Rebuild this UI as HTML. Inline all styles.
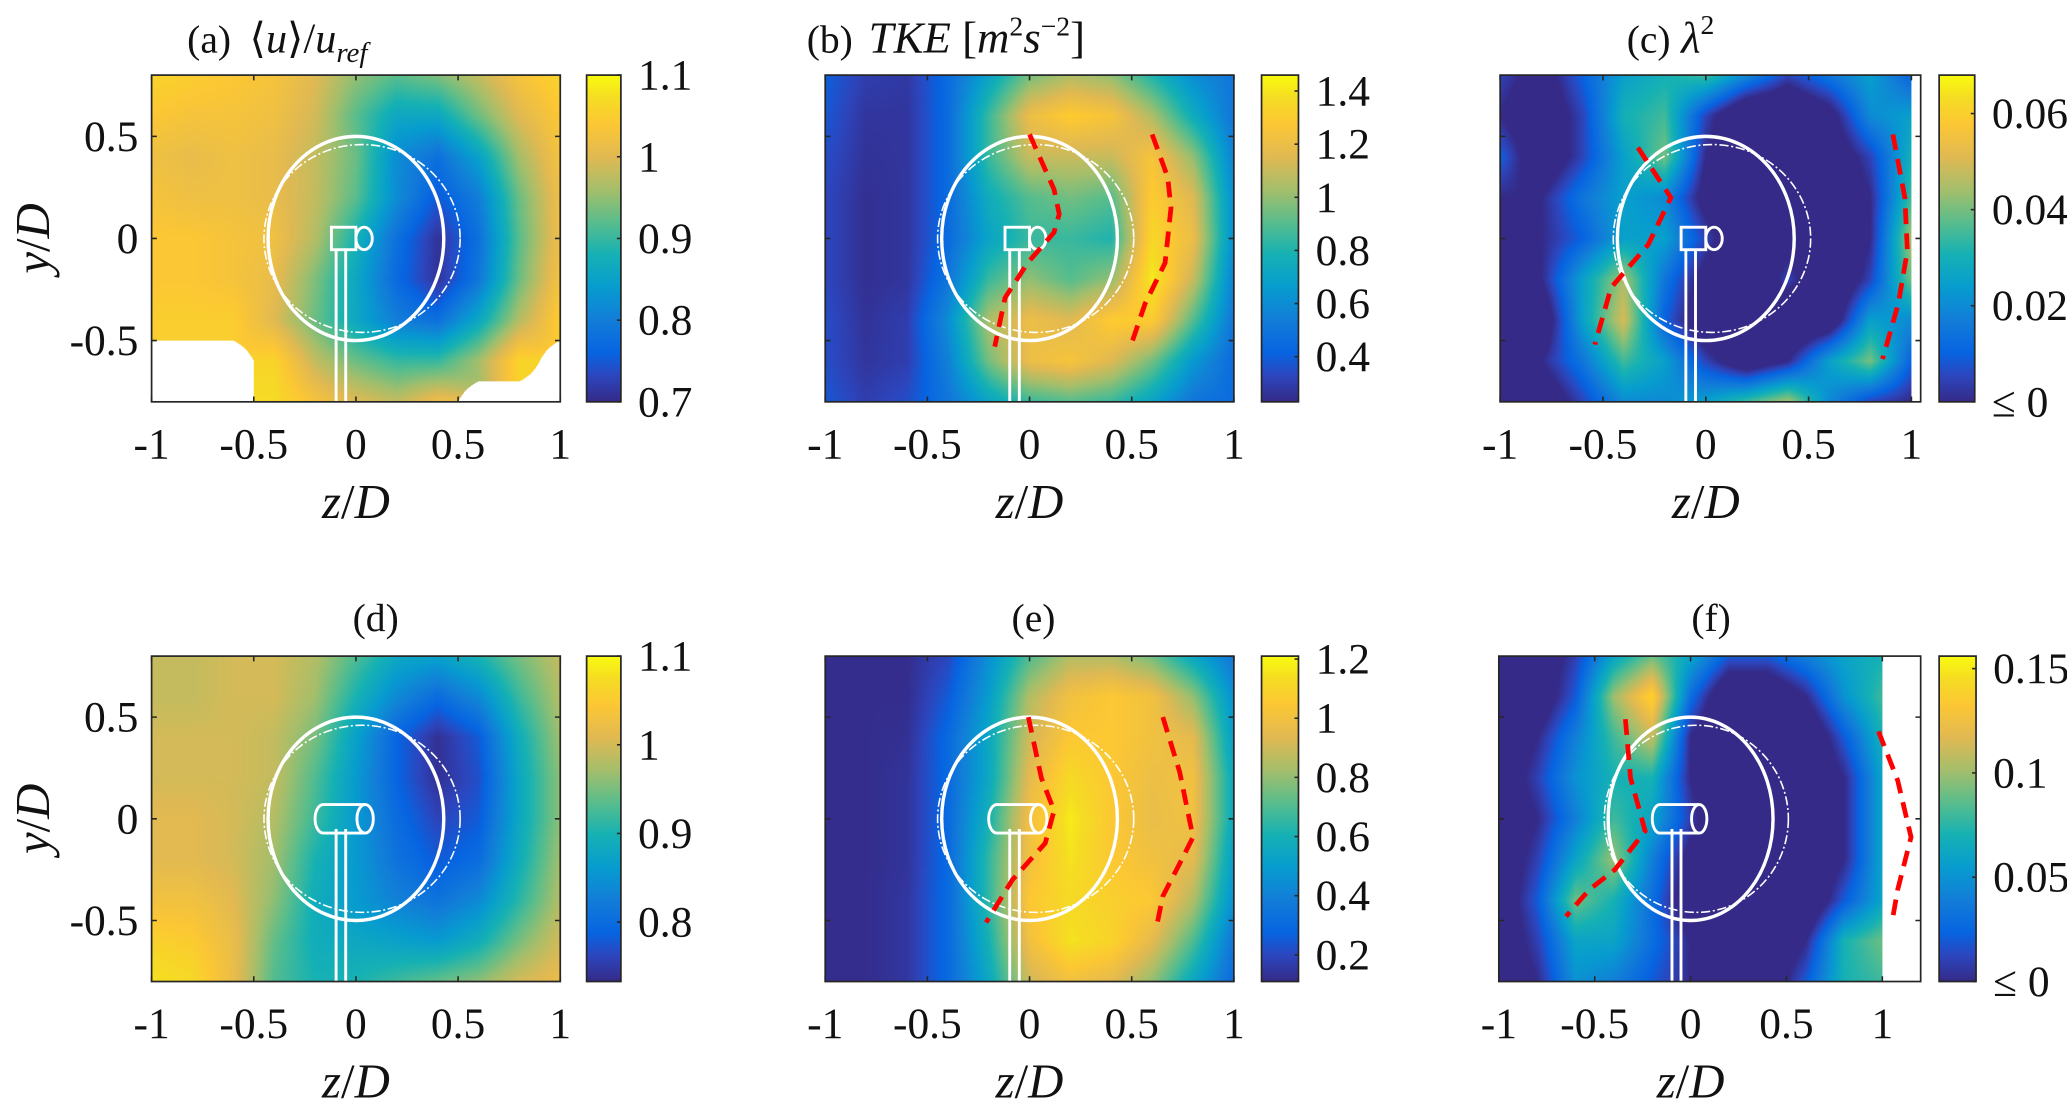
<!DOCTYPE html>
<html><head><meta charset="utf-8">
<style>
html,body{margin:0;padding:0;background:#fff;overflow:hidden;}
#wrap{position:absolute;left:0;top:0;width:1568px;height:841px;transform-origin:0 0;transform:scale(1.31824,1.31748);}
canvas{position:absolute;}
svg{position:absolute;left:0;top:0;}
text{font-family:"Liberation Serif",serif;fill:#111;}
</style></head>
<body>
<div id="wrap">
<canvas id="cv-a"></canvas>
<canvas id="cv-b"></canvas>
<canvas id="cv-c"></canvas>
<canvas id="cv-d"></canvas>
<canvas id="cv-e"></canvas>
<canvas id="cv-f"></canvas>
<svg id="ov" width="1568" height="841" viewBox="0 0 1568 841" font-family="Liberation Serif, serif">
<g font-size="30">
<text x="142" y="40">(a)<tspan dx="14" font-size="32">⟨</tspan><tspan font-style="italic" font-size="32">u</tspan><tspan font-size="32">⟩/</tspan><tspan font-style="italic" font-size="32">u</tspan><tspan font-style="italic" font-size="22" dy="7">ref</tspan></text>
<text x="612" y="40">(b)<tspan dx="12" font-style="italic" font-size="34">TKE</tspan><tspan font-size="34"> [</tspan><tspan font-style="italic" font-size="34">m</tspan><tspan font-size="21" dy="-13">2</tspan><tspan font-style="italic" font-size="34" dy="13">s</tspan><tspan font-size="21" dy="-13">−2</tspan><tspan font-size="34" dy="13">]</tspan></text>
<text x="1234" y="40">(c)<tspan dx="8" font-style="italic" font-size="34">λ</tspan><tspan font-size="21" dy="-14">2</tspan></text>
<text x="285" y="479" text-anchor="middle">(d)</text>
<text x="784" y="479" text-anchor="middle">(e)</text>
<text x="1298" y="479" text-anchor="middle">(f)</text>
</g>
</svg>
</div>
<script>
// ---------- data ----------
const zCols = [-1,-0.8,-0.6,-0.4,-0.2,0,0.2,0.4,0.6,0.8,1.0];
const zColsF = [-1,-0.8,-0.6,-0.4,-0.2,0,0.2,0.4,0.6,0.8,1.0,1.2];
const yRows = [0.8,0.6,0.4,0.2,0,-0.2,-0.4,-0.6,-0.8];
const N = null;
const fieldA = [
[1.06,1.05,1.04,1.03,1.0,0.95,0.92,0.94,0.98,1.03,1.06],
[1.04,1.03,1.03,1.02,0.99,0.92,0.86,0.86,0.93,1.0,1.04],
[1.02,1.01,1.02,1.01,0.98,0.93,0.82,0.78,0.85,0.96,1.03],
[1.03,1.02,1.02,1.01,0.98,0.92,0.82,0.75,0.8,0.93,1.02],
[1.04,1.04,1.03,1.02,0.97,0.88,0.78,0.71,0.78,0.92,1.02],
[1.04,1.04,1.03,1.01,0.94,0.86,0.77,0.71,0.79,0.93,1.03],
[1.05,1.05,1.05,1.0,0.93,0.86,0.8,0.78,0.86,0.97,1.05],
[N,N,N,1.06,0.98,0.93,0.9,0.9,0.96,1.06,N],
[N,N,N,1.07,1.03,1.0,0.98,1.02,N,N,N]];
const fieldB = [
[0.4,0.3,0.28,0.45,0.7,0.95,1.05,1.0,0.8,0.6,0.5],
[0.38,0.27,0.27,0.45,0.85,1.2,1.3,1.25,1.05,0.75,0.5],
[0.35,0.26,0.27,0.45,0.85,1.1,1.1,1.1,1.25,1.0,0.55],
[0.33,0.25,0.27,0.45,0.75,0.9,0.95,0.9,1.3,1.15,0.6],
[0.33,0.25,0.27,0.45,0.7,0.85,0.85,0.8,1.35,1.2,0.6],
[0.33,0.25,0.27,0.5,0.85,1.0,0.9,1.0,1.42,1.1,0.55],
[0.35,0.26,0.3,0.6,1.05,1.2,1.15,1.3,1.3,0.9,0.5],
[0.35,0.27,0.3,0.55,0.95,1.2,1.25,1.15,0.95,0.65,0.45],
[0.38,0.3,0.35,0.5,0.7,0.85,0.9,0.85,0.7,0.5,0.45]];
const fieldC = [
[0.005,-0.005,0.01,0.025,0.03,0.035,0.02,0.005,0.015,0.025,0.01],
[0.0,-0.01,0.005,0.03,0.035,0.005,-0.015,-0.015,-0.005,0.02,0.025],
[0.01,-0.01,0.005,0.025,0.04,0.0,-0.015,-0.015,-0.01,0.005,0.03],
[0.0,0.0,0.015,0.025,0.02,-0.005,-0.015,-0.01,-0.015,0.0,0.035],
[-0.01,0.0,0.01,0.025,0.025,0.005,-0.015,-0.005,-0.015,0.0,0.045],
[-0.01,0.0,0.025,0.045,0.015,-0.005,-0.015,0.005,-0.015,0.005,0.04],
[0.0,-0.01,0.025,0.05,0.01,-0.01,-0.015,-0.015,-0.01,0.025,0.02],
[-0.01,0.0,0.015,0.035,0.025,0.005,-0.01,0.0,0.025,0.04,0.01],
[-0.01,-0.01,0.005,0.02,0.02,0.025,0.035,0.045,0.02,0.005,0.0]];
const fieldD = [
[0.99,0.99,1.0,1.0,0.98,0.93,0.88,0.87,0.9,0.95,0.99],
[0.99,0.99,1.0,1.0,0.97,0.9,0.84,0.8,0.84,0.92,0.98],
[1.0,1.0,1.0,0.99,0.95,0.87,0.79,0.74,0.78,0.89,0.97],
[1.0,1.0,1.0,0.99,0.93,0.86,0.79,0.74,0.77,0.88,0.96],
[1.01,1.01,1.0,0.98,0.92,0.86,0.8,0.76,0.78,0.88,0.96],
[1.01,1.01,1.0,0.97,0.9,0.86,0.81,0.78,0.8,0.89,0.97],
[1.03,1.03,1.01,0.96,0.89,0.86,0.83,0.81,0.84,0.91,0.98],
[1.06,1.05,1.02,0.94,0.89,0.88,0.87,0.86,0.89,0.95,1.0],
[1.08,1.07,1.02,0.93,0.9,0.9,0.92,0.94,0.96,1.0,1.02]];
const fieldE = [
[0.12,0.12,0.12,0.2,0.45,0.7,0.85,0.85,0.75,0.55,0.35],
[0.12,0.12,0.12,0.25,0.5,0.85,1.0,1.05,1.0,0.8,0.45],
[0.12,0.12,0.13,0.3,0.55,0.9,1.05,1.05,1.0,0.95,0.5],
[0.12,0.12,0.14,0.3,0.55,0.95,1.12,1.05,0.98,1.0,0.55],
[0.12,0.12,0.14,0.3,0.6,1.0,1.17,1.05,0.97,1.0,0.55],
[0.12,0.12,0.14,0.3,0.65,1.0,1.15,1.05,1.0,0.95,0.5],
[0.12,0.12,0.15,0.3,0.65,1.05,1.12,1.08,1.05,0.85,0.45],
[0.12,0.12,0.15,0.3,0.6,1.0,1.15,1.1,0.95,0.7,0.35],
[0.12,0.12,0.15,0.3,0.55,0.9,1.0,0.95,0.8,0.55,0.3]];
const fieldF = [
[-0.02,-0.02,0.01,0.06,0.09,0.06,0.02,0.02,0.04,0.06,0.07,N],
[-0.02,-0.02,0.02,0.1,0.14,0.03,-0.03,-0.03,0.0,0.05,0.08,N],
[-0.02,0.0,0.04,0.08,0.11,0.0,-0.04,-0.04,-0.03,0.02,0.07,N],
[-0.02,0.01,0.05,0.07,0.07,0.0,-0.04,-0.04,-0.03,0.0,0.06,N],
[-0.02,0.0,0.04,0.08,0.06,0.01,-0.04,-0.04,-0.03,0.0,0.06,N],
[-0.02,0.01,0.06,0.1,0.04,-0.01,-0.04,-0.04,-0.03,0.0,0.06,N],
[-0.02,0.02,0.09,0.07,0.03,-0.02,-0.04,-0.04,-0.03,0.02,0.06,N],
[-0.02,0.01,0.06,0.06,0.03,0.0,-0.03,-0.03,0.0,0.07,0.09,N],
[-0.02,0.0,0.05,0.04,0.02,0.0,-0.02,-0.02,0.02,0.07,0.08,N]];
// red dashed vortex-path lines [z, y]
const pathB1 = [[0,0.51],[0.12,0.24],[0.145,0.12],[0.12,0.03],[-0.01,-0.12],[-0.12,-0.29],[-0.17,-0.53]];
const pathB2 = [[0.6,0.51],[0.676,0.3],[0.692,0.15],[0.663,-0.12],[0.565,-0.32],[0.494,-0.53]];
const pathC1 = [[-0.33,0.445],[-0.17,0.2],[-0.28,-0.03],[-0.46,-0.24],[-0.54,-0.52]];
const pathC2 = [[0.91,0.51],[0.968,0.2],[0.98,-0.06],[0.936,-0.32],[0.86,-0.59]];
const pathE1 = [[-0.006,0.5],[0.058,0.2],[0.12,0.04],[0.077,-0.12],[-0.084,-0.3],[-0.213,-0.51]];
const pathE2 = [[0.652,0.5],[0.735,0.23],[0.8,-0.09],[0.735,-0.22],[0.652,-0.38],[0.626,-0.51]];
const pathF1 = [[-0.34,0.49],[-0.313,0.2],[-0.237,-0.06],[-0.395,-0.25],[-0.53,-0.35],[-0.65,-0.48]];
const pathF2 = [[0.98,0.43],[1.08,0.19],[1.15,-0.09],[1.08,-0.35],[1.05,-0.51]];
const xTicks = [-1,-0.5,0,0.5,1];
const xTickLabels = ['-1','-0.5','0','0.5','1'];
const yTicks = [0.5,0,-0.5];
const yTickLabels = ['0.5','0','-0.5'];
const climA=[0.7,1.1], climB=[0.23,1.46], climC=[0,0.068], climD=[0.733,1.1], climE=[0.11,1.21], climF=[0,0.156];
const cbTicksA=[0.7,0.8,0.9,1,1.1], cbLabA=['0.7','0.8','0.9','1','1.1'];
const cbTicksB=[0.4,0.6,0.8,1,1.2,1.4], cbLabB=['0.4','0.6','0.8','1','1.2','1.4'];
const cbTicksC=[0,0.02,0.04,0.06], cbLabC=['≤ 0','0.02','0.04','0.06'];
const cbTicksD=[0.8,0.9,1,1.1], cbLabD=['0.8','0.9','1','1.1'];
const cbTicksE=[0.2,0.4,0.6,0.8,1,1.2], cbLabE=['0.2','0.4','0.6','0.8','1','1.2'];
const cbTicksF=[0,0.05,0.1,0.15], cbLabF=['≤ 0','0.05','0.1','0.15'];

// ---------- colormap ----------
const cmapStops=[[0,53,42,135],[0.08,44,70,190],[0.15,7,100,225],[0.25,18,125,216],[0.35,7,156,207],[0.45,21,177,180],[0.55,89,189,140],[0.65,165,190,107],[0.75,225,185,82],[0.85,252,199,52],[0.93,245,220,35],[1,249,251,14]];
function cmap(t){t=Math.max(0,Math.min(1,t));for(let i=1;i<cmapStops.length;i++){const a=cmapStops[i-1],b=cmapStops[i];if(t<=b[0]){const f=(t-a[0])/(b[0]-a[0]);return [a[1]+f*(b[1]-a[1]),a[2]+f*(b[2]-a[2]),a[3]+f*(b[3]-a[3])];}}return [249,251,14];}

const NS='http://www.w3.org/2000/svg';
const ov=document.getElementById('ov');
function mk(tag,attrs,parent){const e=document.createElementNS(NS,tag);for(const k in attrs)e.setAttribute(k,attrs[k]);(parent||ov).appendChild(e);return e;}

const panels=[
 {k:'a',x0:115,y0:57,w:310,h:248,zmin:-1,zmax:1,zvalid:1,cols:zCols,f:fieldA,clim:climA,cbx:445,cbw:26,ct:cbTicksA,cl:cbLabA,ylab:true,paths:[],big:false},
 {k:'b',x0:626,y0:57,w:310,h:248,zmin:-1,zmax:1,zvalid:1,cols:zCols,f:fieldB,clim:climB,cbx:957,cbw:28,ct:cbTicksB,cl:cbLabB,ylab:false,paths:[pathB1,pathB2],big:false},
 {k:'c',x0:1138,y0:57,w:319,h:248,zmin:-1,zmax:1.045,zvalid:1,cols:zCols,f:fieldC,clim:climC,cbx:1471,cbw:27,ct:cbTicksC,cl:cbLabC,ylab:false,paths:[pathC1,pathC2],big:false},
 {k:'d',x0:115,y0:498,w:310,h:247,zmin:-1,zmax:1,zvalid:1,cols:zCols,f:fieldD,clim:climD,cbx:445,cbw:26,ct:cbTicksD,cl:cbLabD,ylab:true,paths:[],big:true},
 {k:'e',x0:626,y0:498,w:310,h:247,zmin:-1,zmax:1,zvalid:1,cols:zCols,f:fieldE,clim:climE,cbx:957,cbw:28,ct:cbTicksE,cl:cbLabE,ylab:false,paths:[pathE1,pathE2],big:true},
 {k:'f',x0:1137,y0:498,w:320,h:247,zmin:-1,zmax:1.2,zvalid:1,cols:zColsF,f:fieldF,clim:climF,cbx:1471,cbw:28,ct:cbTicksF,cl:cbLabF,ylab:false,paths:[pathF1,pathF2],big:true}
];

function sample(P,z,y){
  const cols=P.cols,nz=cols.length,ny=yRows.length;
  let fi=(z-cols[0])/(cols[1]-cols[0]);fi=Math.max(0,Math.min(nz-1.0001,fi));
  let fj=(yRows[0]-y)/(yRows[0]-yRows[1]);fj=Math.max(0,Math.min(ny-1.0001,fj));
  const i=Math.floor(fi),j=Math.floor(fj),u=fi-i,v=fj-j;
  const c=[[P.f[j][i],(1-u)*(1-v)],[P.f[j][i+1],u*(1-v)],[P.f[j+1][i],(1-u)*v],[P.f[j+1][i+1],u*v]];
  let s=0,ws=0,m=0;for(const [val,w] of c){if(val!==null){s+=val*w;ws+=w;m+=w;}}
  if(m<0.5||ws===0)return null;return s/ws;
}

panels.forEach(P=>{
  const cv=document.getElementById('cv-'+P.k);
  cv.width=P.w*2;cv.height=P.h*2;
  cv.style.left=P.x0+'px';cv.style.top=P.y0+'px';cv.style.width=P.w+'px';cv.style.height=P.h+'px';
  const ctx=cv.getContext('2d');const img=ctx.createImageData(cv.width,cv.height);
  for(let py=0;py<cv.height;py++){for(let px=0;px<cv.width;px++){
    const z=P.zmin+(px+0.5)/cv.width*(P.zmax-P.zmin);
    const y=0.8-(py+0.5)/cv.height*1.6;
    let col=[255,255,255];
    if(z<=P.zvalid){const v=sample(P,z,y);if(v!==null)col=cmap((v-P.clim[0])/(P.clim[1]-P.clim[0]));}
    const o=(py*cv.width+px)*4;img.data[o]=col[0];img.data[o+1]=col[1];img.data[o+2]=col[2];img.data[o+3]=255;
  }}
  ctx.putImageData(img,0,0);

  const sx=P.w/(P.zmax-P.zmin), sy=P.h/1.6;
  const X=z=>P.x0+(z-P.zmin)*sx, Y=y=>P.y0+(0.8-y)*sy;
  const g=mk('g',{});
  
  

  const dash=mk('ellipse',{cx:X(0.03),cy:Y(0),rx:0.48*sx,ry:0.46*sy,fill:'none',stroke:'#fff','stroke-width':1.2,'stroke-dasharray':'7 2 1.5 2'},g);
  
  
  const rot=mk('ellipse',{cx:X(0),cy:Y(0),rx:0.43*sx,ry:0.5*sy,fill:'none',stroke:'#fff','stroke-width':2.6},g);
  
  
  const tw=mk('path',{d:`M${X(-0.097)},${Y(-0.05)}V${Y(-0.8)}M${X(-0.05)},${Y(-0.05)}V${Y(-0.8)}`,stroke:'#fff','stroke-width':2.2,fill:'none'},g);
  
  
  let nac;
  if(P.big){
    const h=0.07*sy;
    nac=mk('path',{d:`M${X(0.045)},${Y(0)-h}H${X(-0.16)}A${0.04*sx},${h} 0 0 0 ${X(-0.16)},${Y(0)+h}H${X(0.045)}`,stroke:'#fff','stroke-width':2.2,fill:'none'},g);
    mk('ellipse',{cx:X(0.045),cy:Y(0),rx:0.04*sx,ry:h,stroke:'#fff','stroke-width':2.2,fill:'none'},g);
  } else {
    nac=mk('rect',{x:X(-0.12),y:Y(0.055),width:0.12*sx,height:0.11*sy,stroke:'#fff','stroke-width':2.2,fill:'none'},g);
    mk('ellipse',{cx:X(0.04),cy:Y(0),rx:0.04*sx,ry:0.055*sy,stroke:'#fff','stroke-width':2.2,fill:'none'},g);
  }
  
  

  P.paths.forEach((pth,idx)=>{
    const d=pth.map((p,i)=>(i?'L':'M')+X(p[0]).toFixed(1)+','+Y(p[1]).toFixed(1)).join('');
    const l=mk('path',{d:d,stroke:'#f00','stroke-width':3.6,fill:'none','stroke-dasharray':'12 7'},g);
    
    
  });

  const box=mk('rect',{x:P.x0,y:P.y0,width:P.w,height:P.h,fill:'none',stroke:'#262626','stroke-width':1.3},g);
  
  
  xTicks.forEach((t,i)=>{
    const x=X(t);
    mk('path',{d:`M${x},${P.y0+P.h}v-4M${x},${P.y0}v4`,stroke:'#262626','stroke-width':1.2},g);
    const tl=mk('text',{x:x,y:P.y0+P.h+43,'text-anchor':'middle','font-size':33},g);
    tl.textContent=xTickLabels[i];
    
    
  });
  yTicks.forEach((t,i)=>{
    const y=Y(t);
    mk('path',{d:`M${P.x0},${y}h4M${P.x0+P.w},${y}h-4`,stroke:'#262626','stroke-width':1.2},g);
    if(P.ylab){
      const tl=mk('text',{x:P.x0-10,y:y+11,'text-anchor':'end','font-size':33},g);
      tl.textContent=yTickLabels[i];
      
      
    }
  });
  const xl=mk('text',{x:X(0),y:P.y0+P.h+88,'text-anchor':'middle','font-size':37},g);
  xl.innerHTML='<tspan font-style="italic">z</tspan>/<tspan font-style="italic">D</tspan>';
  
  
  if(P.ylab){
    const yl=mk('text',{x:0,y:0,'text-anchor':'middle','font-size':37,transform:`translate(37,${Y(0)}) rotate(-90)`},g);
    yl.innerHTML='<tspan font-style="italic">y</tspan>/<tspan font-style="italic">D</tspan>';
    
    
  }

  const gid='grad-'+P.k;
  const lg=mk('linearGradient',{id:gid,x1:0,y1:1,x2:0,y2:0},g);
  cmapStops.forEach(s=>mk('stop',{offset:s[0],'stop-color':`rgb(${s[1]},${s[2]},${s[3]})`},lg));
  const cb=mk('rect',{x:P.cbx,y:P.y0,width:P.cbw,height:P.h,fill:`url(#${gid})`,stroke:'#262626','stroke-width':1.3},g);
  
  
  const CY=v=>P.y0+P.h-(v-P.clim[0])/(P.clim[1]-P.clim[0])*P.h;
  P.ct.forEach((t,i)=>{
    const y=CY(t);
    mk('path',{d:`M${P.cbx+P.cbw},${y}h-3`,stroke:'#262626','stroke-width':1.2},g);
    const tl=mk('text',{x:P.cbx+P.cbw+13,y:y+11,'font-size':33},g);
    tl.textContent=P.cl[i];
    
    
  });
});
</script>
</body></html>
